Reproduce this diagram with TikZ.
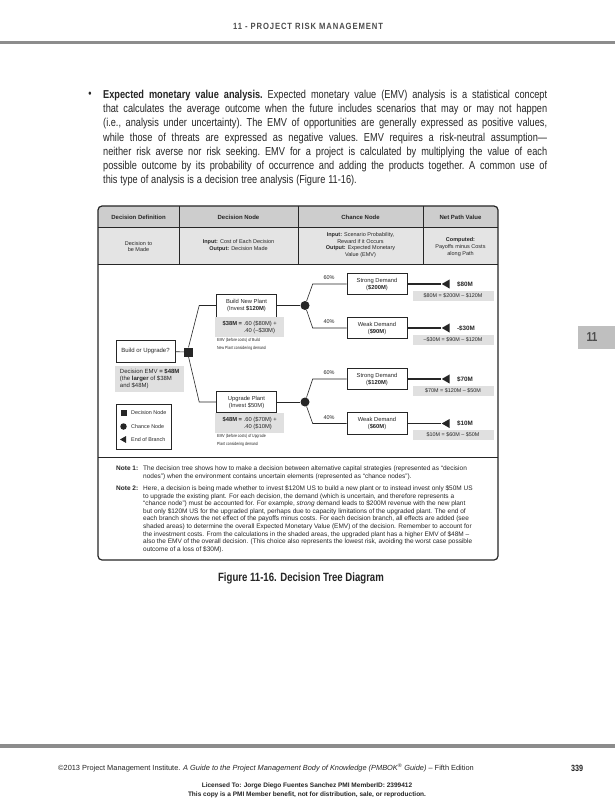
\documentclass[tikz,border=0pt]{standalone}
\usepackage{fontspec}
\setmainfont{Liberation Sans}
\newfontfamily\condfont{Liberation Sans}[FakeStretch=0.8]
\newfontfamily\runfont{Liberation Sans}[FakeStretch=0.85,LetterSpace=10]
\usetikzlibrary{positioning,shapes.geometric}

\definecolor{ink}{HTML}{262626}
\definecolor{headfill}{HTML}{CDCDCD}
\definecolor{rowfill}{HTML}{E4E4E4}
\definecolor{sumfill}{HTML}{E0E0E0}
\definecolor{rulegray}{HTML}{8C8C8C}
\definecolor{runcolor}{HTML}{4D4D4D}
\definecolor{tabfill}{HTML}{BFBFBF}

\newcommand{\fullline}[1]{\leavevmode\hbox to 444pt{#1}}
\newcommand{\loosespaces}{\frenchspacing\spaceskip=0.25em plus 1em minus 0.05em\relax}

\begin{document}
\begin{tikzpicture}[x=1pt, y=-1pt,
    every node/.style={inner sep=0pt, text=ink},
    hdr/.style={font=\fontsize{6}{7}\selectfont\bfseries},
    cell/.style={align=center, font=\fontsize{5.5}{6.7}\selectfont},
    box/.style={draw=ink, line width=0.6pt, fill=white, align=center, minimum width=60pt, minimum height=21.5pt, font=\fontsize{5.8}{7}\selectfont},
    dnode/.style={fill=ink, minimum size=9pt},
    cnode/.style={circle, fill=ink, minimum size=9pt},
    enode/.style={regular polygon, regular polygon sides=3, shape border rotate=90, fill=ink, minimum size=10.5pt},
    sumbox/.style={fill=sumfill, align=center, minimum width=81pt, minimum height=9.5pt, font=\fontsize{5.4}{6.8}\selectfont},
    calcbox/.style={fill=sumfill, align=left, anchor=north west, inner xsep=2pt, inner ysep=2.5pt, font=\fontsize{5.8}{7.4}\selectfont},
    smallnote/.style={align=left, anchor=north west, font=\condfont\fontsize{4.4}{7.3}\selectfont},
    pct/.style={font=\fontsize{5.5}{6}\selectfont},
    val/.style={font=\fontsize{6.3}{7}\selectfont\bfseries},
    legtext/.style={anchor=west, font=\fontsize{5.4}{6}\selectfont},
    tree/.style={draw=ink, line width=0.6pt},
    tail/.style={draw=ink, line width=1.1pt},
    notelabel/.style={anchor=north west, font=\fontsize{6.5}{7.6}\selectfont\bfseries},
    notetext/.style={align=left, anchor=north west, font=\fontsize{6.5}{7.6}\selectfont}
]
\useasboundingbox (0,0) rectangle (615,800);
\fill[white] (0,0) rectangle (615,800);

\node[font=\runfont\bfseries\fontsize{9}{10}\selectfont, text=runcolor] (runhead) at (308,26) {11 - PROJECT RISK MANAGEMENT};
\fill[rulegray] (0,41.5) rectangle (615,44);

\node[font=\condfont\fontsize{11.5}{14.2}\selectfont] (bullet) at (90,95) {•};
\node[anchor=north west, text width=444pt, align=left,
      font=\condfont\fontsize{11.5}{14.2}\selectfont] (para) at (103,90) {\loosespaces
\fullline{\textbf{Expected monetary value analysis.} Expected monetary value (EMV) analysis is a statistical concept}\\
\fullline{that calculates the average outcome when the future includes scenarios that may or may not happen}\\
\fullline{(i.e., analysis under uncertainty). The EMV of opportunities are generally expressed as positive values,}\\
\fullline{while those of threats are expressed as negative values. EMV requires a risk-neutral assumption—}\\
\fullline{neither risk averse nor risk seeking. EMV for a project is calculated by multiplying the value of each}\\
\fullline{possible outcome by its probability of occurrence and adding the products together. A common use of}\\
this type of analysis is a decision tree analysis (Figure 11-16).};

\fill[tabfill] (578,326) rectangle (615,349);
\node[font=\condfont\bfseries\fontsize{13}{14}\selectfont, text=runcolor] (tab) at (592,337.5) {11};

\begin{scope}
\clip[rounded corners=4pt] (98,206) rectangle (498,560);
\fill[headfill] (98,206) rectangle (498,227.5);
\fill[rowfill] (98,227.5) rectangle (498,264);
\end{scope}
\draw[ink, line width=0.6pt] (98,227.5) -- (498,227.5) (98,264) -- (498,264) (98,457) -- (498,457);
\draw[ink, line width=0.6pt] (179,206) -- (179,264) (298,206) -- (298,264) (423,206) -- (423,264);
\draw[ink, line width=1.2pt, rounded corners=4pt] (98,206) rectangle (498,560);

\node[hdr] (h1) at (138.5,217) {Decision Definition};
\node[hdr] (h2) at (238.5,217) {Decision Node};
\node[hdr] (h3) at (360.5,217) {Chance Node};
\node[hdr] (h4) at (460.5,217) {Net Path Value};
\node[cell] (r1) at (138.5,246.5) {Decision to\\be Made};
\node[cell] (r2) at (238.5,245.5) {\textbf{Input:} Cost of Each Decision\\\textbf{Output:} Decision Made};
\node[cell] (r3) at (360.5,245) {\textbf{Input:} Scenario Probability,\\Reward if it Occurs\\\textbf{Output:} Expected Monetary\\Value (EMV)};
\node[cell] (r4) at (460.5,247) {\textbf{Computed:}\\Payoffs minus Costs\\along Path};

\node[box, minimum width=59pt, minimum height=22pt, font=\fontsize{6}{7}\selectfont] (ask) at (145.5,351) {Build or Upgrade?};
\node[dnode] (dec) at (188.5,352) {};
\node[box, minimum height=23pt] (build) at (246.5,305.5) {Build New Plant\\(Invest \textbf{\$120M})};
\node[box] (upgrade) at (246.5,402) {Upgrade Plant\\(Invest \$50M)};
\node[cnode] (ch1) at (305,305.5) {};
\node[cnode] (ch2) at (305,402) {};
\node[box] (strong1) at (377,284) {Strong Demand\\(\textbf{\$200M})};
\node[box] (weak1) at (377,328) {Weak Demand\\(\textbf{\$90M})};
\node[box] (strong2) at (377,379) {Strong Demand\\(\textbf{\$120M})};
\node[box] (weak2) at (377,423.5) {Weak Demand\\(\textbf{\$60M})};
\node[enode] (end1) at (447,284) {};
\node[enode] (end2) at (447,328) {};
\node[enode] (end3) at (447,379) {};
\node[enode] (end4) at (447,423.5) {};
\node[val, right=7pt of end1] (val1) {\$80M};
\node[val, right=7pt of end2] (val2) {-\$30M};
\node[val, right=7pt of end3] (val3) {\$70M};
\node[val, right=7pt of end4] (val4) {\$10M};
\node[sumbox] (net1) at (453,296) {\$80M = \$200M – \$120M};
\node[sumbox] (net2) at (453,340) {–\$30M = \$90M – \$120M};
\node[sumbox] (net3) at (453,391) {\$70M = \$120M – \$50M};
\node[sumbox] (net4) at (453,435) {\$10M = \$60M – \$50M};
\node[pct] (p1) at (329,278) {60\%};
\node[pct] (p2) at (329,322) {40\%};
\node[pct] (p3) at (329,373) {60\%};
\node[pct] (p4) at (329,418) {40\%};

\node[calcbox, minimum width=69pt, minimum height=20pt] (emv1) at (215,317) {\textbf{\$38M =} .60 (\$80M) +\\\phantom{\textbf{\$38M =} }.40 (–\$30M)};
\node[smallnote] (emvnote1) at (217,338.5) {EMV (before costs) of Build\\New Plant considering demand};
\node[calcbox, minimum width=69pt, minimum height=20pt] (emv2) at (215,413) {\textbf{\$48M =} .60 (\$70M) +\\\phantom{\textbf{\$48M =} }.40 (\$10M)};
\node[smallnote] (emvnote2) at (217,434.5) {EMV (before costs) of Upgrade\\Plant considering demand};
\node[calcbox, minimum width=69pt, font=\fontsize{6}{7.4}\selectfont] (emvdec) at (115,366) {Decision EMV \textbf{= \$48M}\\(the \textbf{larger} of \$38M\\and \$48M)};

\draw[tree] (ask) -- (dec);
\draw[tree] (dec.north) -- ([xshift=-17pt]build.west) -- (build.west);
\draw[tree] (dec.south) -- ([xshift=-17pt]upgrade.west) -- (upgrade.west);
\draw[tree] (build) -- (ch1);
\draw[tree] (upgrade) -- (ch2);
\draw[tree] (ch1) -- ([xshift=-34pt]strong1.west) -- (strong1.west);
\draw[tree] (ch1) -- ([xshift=-34pt]weak1.west) -- (weak1.west);
\draw[tree] (ch2) -- ([xshift=-34pt]strong2.west) -- (strong2.west);
\draw[tree] (ch2) -- ([xshift=-34pt]weak2.west) -- (weak2.west);
\draw[tail] (strong1) -- (end1);
\draw[tail] (weak1) -- (end2);
\draw[tail] (strong2) -- (end3);
\draw[tail] (weak2) -- (end4);

\node[draw=ink, line width=0.7pt, fill=white, minimum width=55pt, minimum height=45pt, anchor=north west] (legend) at (116,404) {};
\node[dnode, minimum size=6pt] (legdec) at (123.5,412.5) {};
\node[cnode, minimum size=6.5pt] (legch) at (123.5,426.5) {};
\node[enode, minimum size=8pt] (legend1) at (124,439.5) {};
\node[legtext] (legdect) at (131,412.5) {Decision Node};
\node[legtext] (legcht) at (131,426.5) {Chance Node};
\node[legtext] (legendt) at (131,439.5) {End of Branch};

\node[notelabel] (note1lbl) at (116,465.5) {Note 1:};
\node[notetext] (note1) at (143,465.5) {The decision tree shows how to make a decision between alternative capital strategies (represented as “decision\\nodes”) when the environment contains uncertain elements (represented as “chance nodes”).};
\node[notelabel] (note2lbl) at (116,485.5) {Note 2:};
\node[notetext] (note2) at (143,485.5) {Here, a decision is being made whether to invest \$120M US to build a new plant or to instead invest only \$50M US\\
to upgrade the existing plant. For each decision, the demand (which is uncertain, and therefore represents a\\
“chance node”) must be accounted for. For example, \textit{strong} demand leads to \$200M revenue with the new plant\\
but only \$120M US for the upgraded plant, perhaps due to capacity limitations of the upgraded plant. The end of\\
each branch shows the net effect of the payoffs minus costs. For each decision branch, all effects are added (see\\
shaded areas) to determine the overall Expected Monetary Value (EMV) of the decision. Remember to account for\\
the investment costs. From the calculations in the shaded areas, the upgraded plant has a higher EMV of \$48M –\\
also the EMV of the overall decision. (This choice also represents the lowest risk, avoiding the worst case possible\\
outcome of a loss of \$30M).};

\node[font=\condfont\bfseries\fontsize{12}{14}\selectfont] (caption) at (301,578) {Figure 11-16. Decision Tree Diagram};

\fill[rulegray] (0,743.5) rectangle (615,748);
\node[anchor=west, font=\fontsize{7.4}{9}\selectfont] (footer) at (58,768) {©2013 Project Management Institute. \textit{A Guide to the Project Management Body of Knowledge (PMBOK\textsuperscript{®} Guide)} – Fifth Edition};
\node[font=\condfont\bfseries\fontsize{9}{10}\selectfont] (pageno) at (577,768) {339};
\node[align=center, font=\bfseries\fontsize{6.5}{9}\selectfont] (licence) at (307,790) {Licensed To: Jorge Diego Fuentes Sanchez PMI MemberID: 2399412\\This copy is a PMI Member benefit, not for distribution, sale, or reproduction.};
\end{tikzpicture}
\end{document}
